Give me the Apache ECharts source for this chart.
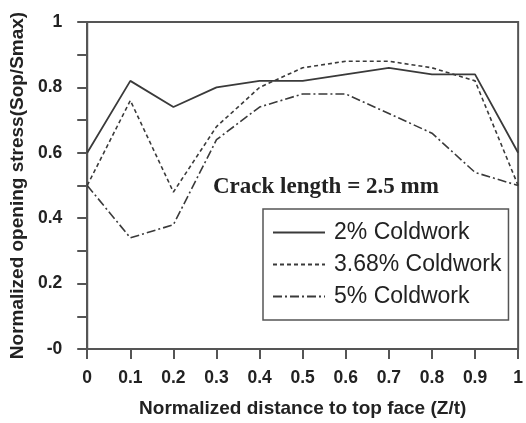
<!DOCTYPE html>
<html>
<head>
<meta charset="utf-8">
<script src="https://cdn.jsdelivr.net/npm/echarts@6/dist/echarts.min.js"></script>
<style>
  html, body { margin: 0; padding: 0; background: #fff; }
  #chart { width: 526px; height: 423px; }
</style>
</head>
<body>
<div id="chart"></div>
<script>
// normalized distance Z/t
const xs = [0, 0.1, 0.2, 0.3, 0.4, 0.5, 0.6, 0.7, 0.8, 0.9, 1];
const cw2 = [0.6, 0.82, 0.74, 0.8, 0.82, 0.82, 0.84, 0.86, 0.84, 0.84, 0.6];
const cw368 = [0.5, 0.76, 0.48, 0.68, 0.8, 0.86, 0.88, 0.88, 0.86, 0.82, 0.5];
const cw5 = [0.5, 0.34, 0.38, 0.64, 0.74, 0.78, 0.78, 0.72, 0.66, 0.54, 0.5];
const names = ['2% Coldwork', '3.68% Coldwork', '5% Coldwork'];

const lineColor = '#3a3a3a';
const axisColor = '#555';

function pairs(ys) {
  return xs.map((x, i) => [x, ys[i]]);
}

const chart = echarts.init(document.getElementById('chart'));

const option = {
  animation: false,
  title: {
    text: 'Crack length = 2.5 mm',
    left: 213,
    top: 176,
    padding: 0,
    textStyle: {
      fontFamily: 'Liberation Serif',
      fontWeight: 'bold',
      fontSize: 23,
      color: '#222'
    }
  },
  legend: {
    orient: 'vertical',
    left: 263,
    top: 209,
    padding: [12, 7, 12, 9],
    itemGap: 9,
    itemWidth: 52,
    itemHeight: 14,
    borderColor: axisColor,
    borderWidth: 1.5,
    itemStyle: { opacity: 0 },
    textStyle: {
      fontFamily: 'Arial, Liberation Sans',
      fontSize: 23,
      color: '#222',
      padding: [0, 0, 0, 4]
    },
    data: names
  },
  grid: {
    left: 87,
    right: 4,
    top: 22,
    bottom: 74,
    show: true,
    borderColor: axisColor,
    borderWidth: 2
  },
  xAxis: {
    type: 'value',
    min: 0,
    max: 1,
    interval: 0.1,
    name: 'Normalized distance to top face (Z/t)',
    nameLocation: 'middle',
    nameGap: 50,
    nameTextStyle: {
      fontFamily: 'Arial, Liberation Sans',
      fontWeight: 'bold',
      fontSize: 19,
      color: '#222'
    },
    axisLine: { lineStyle: { color: axisColor, width: 2 } },
    axisTick: { length: 10, lineStyle: { color: axisColor, width: 2 } },
    splitLine: { show: false },
    axisLabel: {
      margin: 20,
      fontFamily: 'Arial, Liberation Sans',
      fontWeight: 'bold',
      fontSize: 17.5,
      color: '#222',
      formatter: v => String(v)
    }
  },
  yAxis: {
    type: 'value',
    min: 0,
    max: 1,
    interval: 0.2,
    name: 'Normalized opening stress(Sop/Smax)',
    nameLocation: 'middle',
    nameGap: 58,
    nameTextStyle: {
      fontFamily: 'Arial, Liberation Sans',
      fontWeight: 'bold',
      fontSize: 19,
      color: '#222'
    },
    axisLine: { lineStyle: { color: axisColor, width: 2 } },
    axisTick: { length: 10, lineStyle: { color: axisColor, width: 2 } },
    minorTick: { show: true, splitNumber: 2, length: 10, lineStyle: { color: axisColor, width: 2 } },
    splitLine: { show: false },
    axisLabel: {
      margin: 25,
      fontFamily: 'Arial, Liberation Sans',
      fontWeight: 'bold',
      fontSize: 17.5,
      color: '#222',
      formatter: v => (v === 0 ? '-0' : String(v))
    }
  },
  series: [
    {
      name: names[0],
      type: 'line',
      symbol: 'none',
      color: lineColor,
      lineStyle: { color: lineColor, width: 1.8, type: 'solid' },
      data: pairs(cw2)
    },
    {
      name: names[1],
      type: 'line',
      symbol: 'none',
      color: lineColor,
      lineStyle: { color: lineColor, width: 1.6, type: [4, 3] },
      data: pairs(cw368)
    },
    {
      name: names[2],
      type: 'line',
      symbol: 'none',
      color: lineColor,
      lineStyle: { color: lineColor, width: 1.6, type: [9, 3, 2, 3] },
      data: pairs(cw5)
    }
  ]
};

chart.setOption(option);
</script>
</body>
</html>
